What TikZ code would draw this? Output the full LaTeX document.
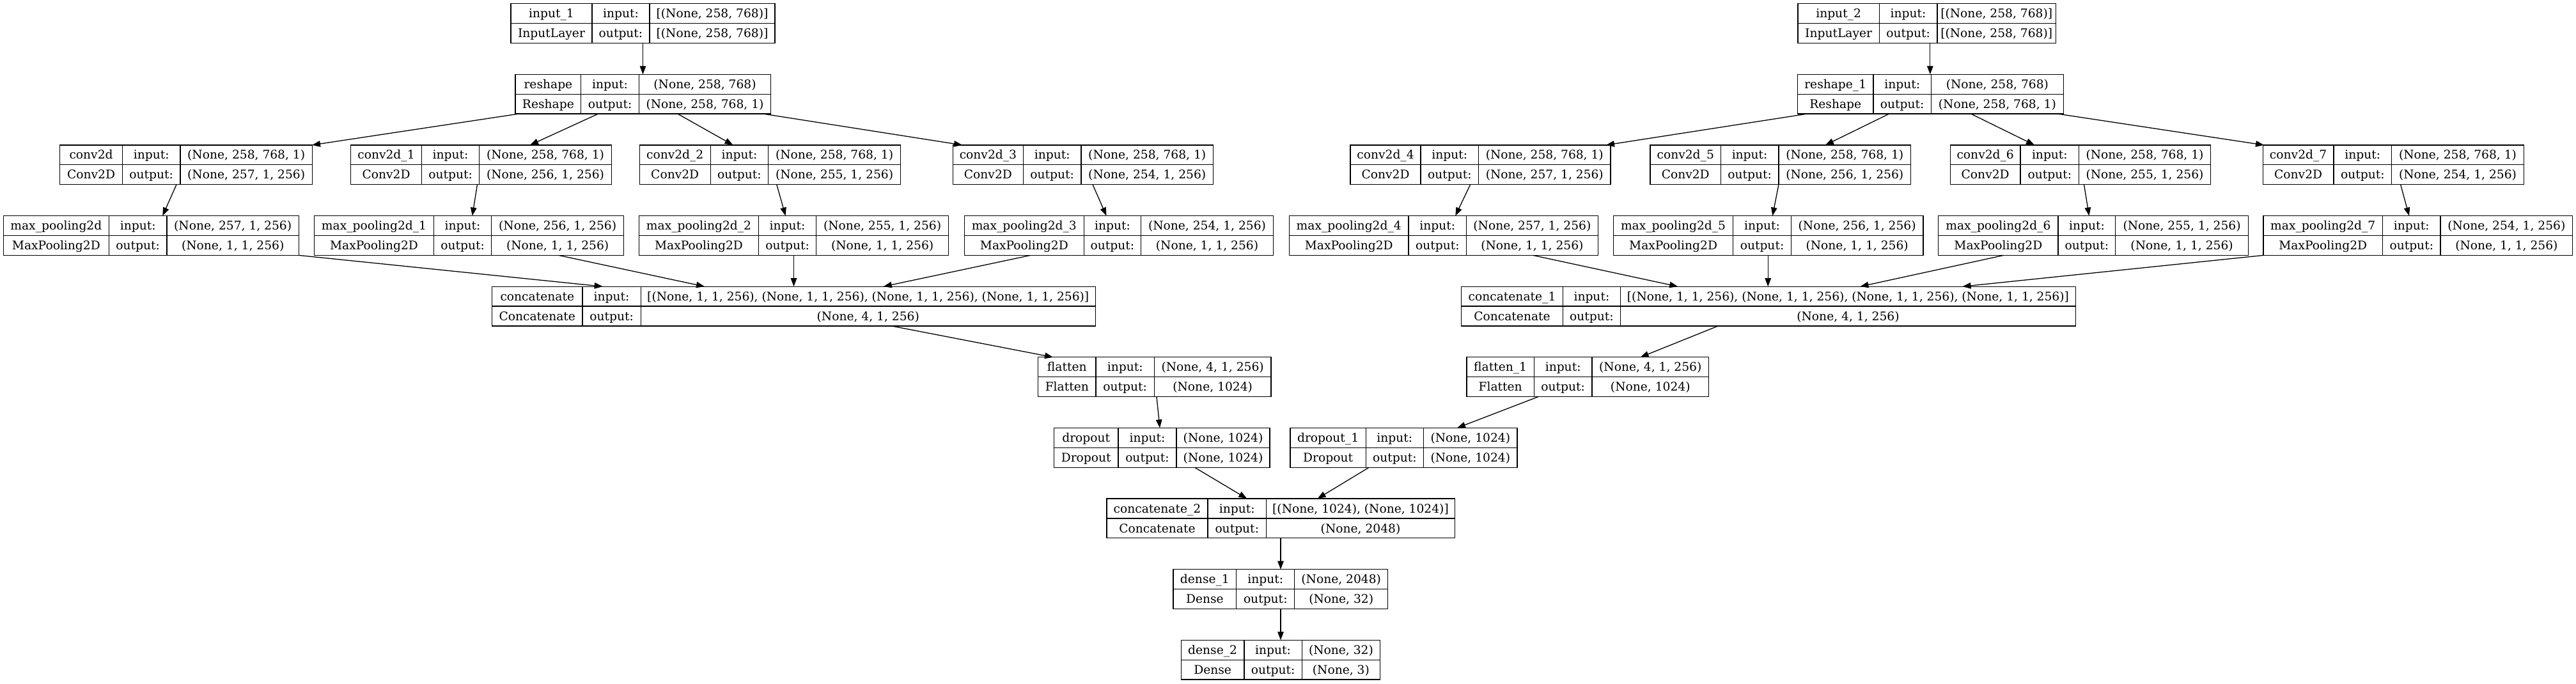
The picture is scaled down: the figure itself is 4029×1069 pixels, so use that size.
\documentclass[tikz,border=0pt]{standalone}
\usepackage{fontspec}
\setmainfont{DejaVu Serif}
\usetikzlibrary{arrows.meta}
\tikzset{
  lbx/.style={draw=black, line width=1.3pt, rectangle, inner sep=0pt, outer sep=0pt, minimum height=61.8pt},
  lln/.style={draw=black, line width=1.3pt},
  ltx/.style={anchor=base, inner sep=0pt, outer sep=0pt, font=\fontsize{18.67pt}{22pt}\selectfont},
  arr/.style={draw=black, line width=1.3pt, -{Triangle[length=13pt,width=9.5pt]}}
}
\newcommand\lbox[6]{%
  \def\bxT{#2}\def\bxL{#3}\def\bxA{#4}\def\bxB{#5}\def\bxR{#6}%
  \node[lbx, minimum width=#6pt-#3pt, anchor=north west] (#1) at (#3,#2) {};
  \draw[lln] (#4,#2) -- (#4,#2+61.8) (#5,#2) -- (#5,#2+61.8) (#3,#2+30.9) -- (#6,#2+30.9);
}
\newcommand\ltext[5]{%
  \node[ltx] (#1-a) at ({(\bxL+\bxA)/2},{\bxT+22}) {#2};
  \node[ltx] (#1-b) at ({(\bxL+\bxA)/2},{\bxT+53}) {#3};
  \node[ltx] (#1-c) at ({(\bxA+\bxB)/2},{\bxT+22}) {input:};
  \node[ltx] (#1-d) at ({(\bxA+\bxB)/2},{\bxT+53}) {output:};
  \node[ltx] (#1-e) at ({(\bxB+\bxR)/2},{\bxT+22}) {#4};
  \node[ltx] (#1-f) at ({(\bxB+\bxR)/2},{\bxT+53}) {#5};
}
\newcommand\edge[4]{\draw[arr] (#2,0 |- #1.south) -- (#4,0 |- #3.north);}
\begin{document}
\begin{tikzpicture}[x=1pt,y=-1pt]
\fill[white] (0,0) rectangle (4029,1069);
\useasboundingbox (0,0) rectangle (4029,1069);
% rank 0
\lbox{in1}{5.7}{799}{926}{1016}{1212}
\ltext{in1}{input\_1}{InputLayer}{[(None, 258, 768)]}{[(None, 258, 768)]}
\lbox{in2}{5.7}{2812}{2939.2}{3029.9}{3215.5}
\ltext{in2}{input\_2}{InputLayer}{[(None, 258, 768)]}{[(None, 258, 768)]}
% rank 1
\lbox{rs}{116.3}{806}{908.8}{999.3}{1205.8}
\ltext{rs}{reshape}{Reshape}{(None, 258, 768)}{(None, 258, 768, 1)}
\lbox{rs1}{116.3}{2811.4}{2930}{3020.3}{3227.4}
\ltext{rs1}{reshape\_1}{Reshape}{(None, 258, 768)}{(None, 258, 768, 1)}
% rank 2
\lbox{c0}{226.9}{93.8}{191.3}{282.1}{488.3}
\ltext{c0}{conv2d}{Conv2D}{(None, 258, 768, 1)}{(None, 257, 1, 256)}
\lbox{c1}{226.9}{548.7}{659.3}{749.8}{956.3}
\ltext{c1}{conv2d\_1}{Conv2D}{(None, 258, 768, 1)}{(None, 256, 1, 256)}
\lbox{c2}{226.9}{1000.2}{1111.2}{1201.7}{1408.5}
\ltext{c2}{conv2d\_2}{Conv2D}{(None, 258, 768, 1)}{(None, 255, 1, 256)}
\lbox{c3}{226.9}{1490.3}{1600.5}{1690.9}{1897.5}
\ltext{c3}{conv2d\_3}{Conv2D}{(None, 258, 768, 1)}{(None, 254, 1, 256)}
\lbox{c4}{226.9}{2111.9}{2222.1}{2312.5}{2519.1}
\ltext{c4}{conv2d\_4}{Conv2D}{(None, 258, 768, 1)}{(None, 257, 1, 256)}
\lbox{c5}{226.9}{2581.1}{2691.3}{2781.9}{2988.6}
\ltext{c5}{conv2d\_5}{Conv2D}{(None, 258, 768, 1)}{(None, 256, 1, 256)}
\lbox{c6}{226.9}{3050.2}{3160.1}{3251.6}{3457.4}
\ltext{c6}{conv2d\_6}{Conv2D}{(None, 258, 768, 1)}{(None, 255, 1, 256)}
\lbox{c7}{226.9}{3539.2}{3650}{3740.6}{3947.3}
\ltext{c7}{conv2d\_7}{Conv2D}{(None, 258, 768, 1)}{(None, 254, 1, 256)}
% rank 3
\lbox{m0}{337.6}{5.2}{170.5}{260.9}{467.5}
\ltext{m0}{max\_pooling2d}{MaxPooling2D}{(None, 257, 1, 256)}{(None, 1, 1, 256)}
\lbox{m1}{337.6}{491.6}{678.4}{768.8}{975.5}
\ltext{m1}{max\_pooling2d\_1}{MaxPooling2D}{(None, 256, 1, 256)}{(None, 1, 1, 256)}
\lbox{m2}{337.6}{999.6}{1186.4}{1276.8}{1483.4}
\ltext{m2}{max\_pooling2d\_2}{MaxPooling2D}{(None, 255, 1, 256)}{(None, 1, 1, 256)}
\lbox{m3}{337.6}{1508.4}{1695.2}{1784.7}{1991.3}
\ltext{m3}{max\_pooling2d\_3}{MaxPooling2D}{(None, 254, 1, 256)}{(None, 1, 1, 256)}
\lbox{m4}{337.6}{2016.3}{2203.1}{2293.5}{2499.3}
\ltext{m4}{max\_pooling2d\_4}{MaxPooling2D}{(None, 257, 1, 256)}{(None, 1, 1, 256)}
\lbox{m5}{337.6}{2523.4}{2710.7}{2801.3}{3008}
\ltext{m5}{max\_pooling2d\_5}{MaxPooling2D}{(None, 256, 1, 256)}{(None, 1, 1, 256)}
\lbox{m6}{337.6}{3031.7}{3219}{3308.8}{3516.3}
\ltext{m6}{max\_pooling2d\_6}{MaxPooling2D}{(None, 255, 1, 256)}{(None, 1, 1, 256)}
\lbox{m7}{337.6}{3540}{3726.5}{3817}{4023.8}
\ltext{m7}{max\_pooling2d\_7}{MaxPooling2D}{(None, 254, 1, 256)}{(None, 1, 1, 256)}
% rank 4
\lbox{cc0}{448.2}{769.7}{910.9}{1002.2}{1713.3}
\ltext{cc0}{concatenate}{Concatenate}{[(None, 1, 1, 256), (None, 1, 1, 256), (None, 1, 1, 256), (None, 1, 1, 256)]}{(None, 4, 1, 256)}
\lbox{cc1}{448.2}{2285.8}{2444.2}{2534.6}{3246.3}
\ltext{cc1}{concatenate\_1}{Concatenate}{[(None, 1, 1, 256), (None, 1, 1, 256), (None, 1, 1, 256), (None, 1, 1, 256)]}{(None, 4, 1, 256)}
% rank 5
\lbox{f0}{558.8}{1623.6}{1714}{1805.4}{1987.9}
\ltext{f0}{flatten}{Flatten}{(None, 4, 1, 256)}{(None, 1024)}
\lbox{f1}{558.8}{2294}{2399.3}{2490}{2672.5}
\ltext{f1}{flatten\_1}{Flatten}{(None, 4, 1, 256)}{(None, 1024)}
% rank 6
\lbox{d0}{669.4}{1648.5}{1749}{1840}{1986}
\ltext{d0}{dropout}{Dropout}{(None, 1024)}{(None, 1024)}
\lbox{d1}{669.4}{2018}{2136.2}{2226.5}{2373.1}
\ltext{d1}{dropout\_1}{Dropout}{(None, 1024)}{(None, 1024)}
% rank 7
\lbox{cc2}{780}{1730.9}{1889}{1980.5}{2275.5}
\ltext{cc2}{concatenate\_2}{Concatenate}{[(None, 1024), (None, 1024)]}{(None, 2048)}
% rank 8
\lbox{de1}{890.7}{1835}{1933.8}{2024.7}{2170.7}
\ltext{de1}{dense\_1}{Dense}{(None, 2048)}{(None, 32)}
% rank 9
\lbox{de2}{1001.3}{1847.2}{1946}{2036.2}{2158.6}
\ltext{de2}{dense\_2}{Dense}{(None, 32)}{(None, 3)}
% edges
\edge{in1}{1005.5}{rs}{1005.5}
\edge{in2}{3018.8}{rs1}{3018.8}
\edge{rs}{811}{c0}{488}
\edge{rs}{935.5}{c1}{829}
\edge{rs}{1060}{c2}{1146.5}
\edge{rs}{1194}{c3}{1505}
\edge{rs1}{2826.3}{c4}{2512}
\edge{rs1}{2954.5}{c5}{2855}
\edge{rs1}{3082.7}{c6}{3182}
\edge{rs1}{3218.6}{c7}{3541}
\edge{c0}{276}{m0}{254.3}
\edge{c1}{746.5}{m1}{738.7}
\edge{c2}{1214.8}{m2}{1228.6}
\edge{c3}{1709}{m3}{1730.5}
\edge{c4}{2299.6}{m4}{2276.3}
\edge{c5}{2781.9}{m5}{2772.3}
\edge{c6}{3259.5}{m6}{3267.4}
\edge{c7}{3754.6}{m7}{3767.9}
\edge{m0}{467.5}{cc0}{942.7}
\edge{m1}{873.9}{cc0}{1102}
\edge{m2}{1241.5}{cc0}{1241.5}
\edge{m3}{1611.7}{cc0}{1381.8}
\edge{m4}{2397.7}{cc1}{2624.2}
\edge{m5}{2765.2}{cc1}{2765.2}
\edge{m6}{3133.7}{cc1}{2909.5}
\edge{m7}{3540}{cc1}{3069.5}
\edge{cc0}{1394.7}{f0}{1647}
\edge{cc1}{2687}{f1}{2565.6}
\edge{f0}{1809}{d0}{1814}
\edge{f1}{2406}{d1}{2279}
\edge{d0}{1868.5}{cc2}{1950.3}
\edge{d1}{2141.2}{cc2}{2060.6}
\edge{cc2}{2003}{de1}{2003}
\edge{de1}{2003}{de2}{2003}
\end{tikzpicture}
\end{document}
